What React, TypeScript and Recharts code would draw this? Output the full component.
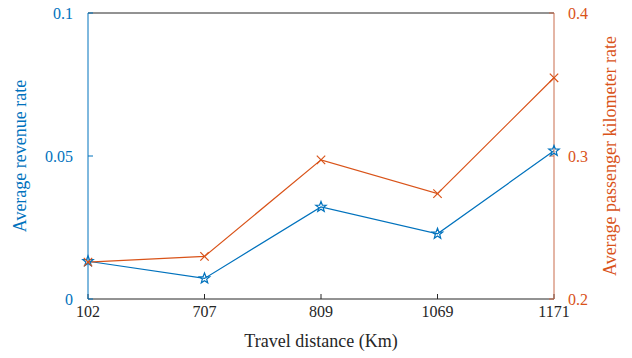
import { LineChart, Line, XAxis, YAxis, ReferenceLine } from "recharts";

const distances = ["102", "707", "809", "1069", "1171"];
const revenueRate = [0.0132, 0.0072, 0.0322, 0.0228, 0.0518];
const passengerKmRate = [0.2258, 0.2298, 0.2973, 0.2737, 0.3547];
const leftTicks = [0, 0.05, 0.1];
const rightTicks = [0.2, 0.3, 0.4];

const BLUE = "#0072BD";
const ORANGE = "#D95319";
const AXIS = "#262626";
const FONT = "'Liberation Serif', 'DejaVu Serif', serif";

const data = distances.map((d, i) => ({
  distance: d,
  revenue: revenueRate[i],
  passenger: passengerKmRate[i],
}));

function StarDot({ cx, cy }: { cx?: number; cy?: number }) {
  if (cx == null || cy == null) return null;
  const pts: string[] = [];
  for (let i = 0; i < 10; i++) {
    const r = i % 2 === 0 ? 5.5 : 2.3;
    const a = -Math.PI / 2 + (i * Math.PI) / 5;
    pts.push(`${cx + r * Math.cos(a)},${cy + r * Math.sin(a)}`);
  }
  return (
    <polygon points={pts.join(" ")} fill="none" stroke={BLUE} strokeWidth={1.2} />
  );
}

function CrossDot({ cx, cy }: { cx?: number; cy?: number }) {
  if (cx == null || cy == null) return null;
  const s = 4.2;
  return (
    <g stroke={ORANGE} strokeWidth={1.2}>
      <line x1={cx - s} y1={cy - s} x2={cx + s} y2={cy + s} />
      <line x1={cx - s} y1={cy + s} x2={cx + s} y2={cy - s} />
    </g>
  );
}

export default function App() {
  return (
    <div style={{ position: "absolute", left: 0, top: 0, background: "#fff" }}>
      <LineChart
        width={632}
        height={358}
        data={data}
        margin={{ top: 13, right: 0, bottom: 8, left: 0 }}
      >
        <XAxis
          dataKey="distance"
          height={51}
          stroke={AXIS}
          tickSize={-5}
          tickMargin={12}
          tick={{ fill: AXIS, fontSize: 16, fontFamily: FONT }}
          label={{
            value: "Travel distance (Km)",
            position: "insideBottom",
            offset: 3,
            style: { fill: AXIS, fontSize: 18, fontFamily: FONT },
          }}
        />
        <YAxis
          yAxisId="left"
          orientation="left"
          width={88}
          domain={[0, 0.1]}
          ticks={leftTicks}
          stroke={BLUE}
          tickSize={-5}
          tickMargin={20}
          tick={{ fill: BLUE, fontSize: 16, fontFamily: FONT }}
          label={{
            value: "Average revenue rate",
            angle: -90,
            position: "insideLeft",
            offset: 20,
            style: { fill: BLUE, fontSize: 18, fontFamily: FONT, textAnchor: "middle" },
          }}
        />
        <YAxis
          yAxisId="right"
          orientation="right"
          width={78}
          domain={[0.2, 0.4]}
          ticks={rightTicks}
          stroke="#c96d4c"
          tickSize={-5}
          tickMargin={19}
          tick={{ fill: ORANGE, fontSize: 16, fontFamily: FONT }}
          label={{
            value: "Average passenger kilometer rate",
            angle: -90,
            position: "insideRight",
            offset: 22,
            style: { fill: ORANGE, fontSize: 18, fontFamily: FONT, textAnchor: "middle" },
          }}
        />
        <ReferenceLine yAxisId="left" y={0.1} stroke={AXIS} strokeWidth={1} />
        <Line
          yAxisId="left"
          dataKey="revenue"
          stroke={BLUE}
          strokeWidth={1.2}
          dot={<StarDot />}
          activeDot={false}
          isAnimationActive={false}
        />
        <Line
          yAxisId="right"
          dataKey="passenger"
          stroke={ORANGE}
          strokeWidth={1.2}
          dot={<CrossDot />}
          activeDot={false}
          isAnimationActive={false}
        />
      </LineChart>
    </div>
  );
}
